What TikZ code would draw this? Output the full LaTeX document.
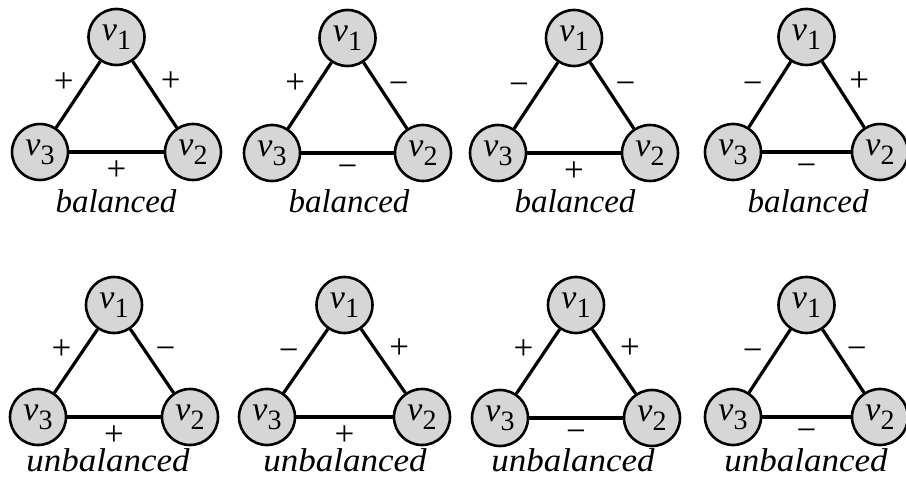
\documentclass[tikz,border=0pt]{standalone}
\usepackage{fontspec}
\setmainfont{Liberation Serif}
\definecolor{vgray}{RGB}{214,214,214}
\newcommand\vlab[1]{\textit{v}\kern0.3pt\raisebox{-9pt}{\fontsize{28}{28}\selectfont #1}}
\newcommand\sgp{+}
\newcommand\sgm{−}
\tikzset{
  vtx/.style={circle, draw, line width=2.6pt, fill=vgray, minimum size=56pt, inner sep=0pt,
              font=\fontsize{34}{34}\selectfont},
  sedge/.style={line width=3.2pt},
  sgn/.style={font=\fontsize{35}{35}\selectfont, inner sep=0pt},
  Lp/.style={sgn, midway, xshift=-14.5pt, yshift=11.5pt},
  Lm/.style={sgn, midway, xshift=-17pt, yshift=6pt},
  Rp/.style={sgn, midway, xshift=16pt, yshift=12.5pt},
  Rm/.style={sgn, midway, xshift=13.5pt, yshift=7.5pt},
  Bp/.style={sgn, midway, yshift=-18.5pt},
  Bm/.style={sgn, midway, yshift=-18.5pt},
  captxt/.style={font=\fontsize{33}{33}\selectfont\itshape, anchor=base, inner sep=0pt},
}
% #1 x of v3, #2 y of v3, #3 width, #4 height, #5 name prefix, #6 left sign, #7 right sign, #8 bottom sign
\newcommand\signtri[8]{%
  \node[vtx] (#5c) at (#1,#2) {\vlab{3}};
  \node[vtx] (#5b) at ({#1+#3},#2) {\vlab{2}};
  \node[vtx] (#5a) at ({#1+#3/2},{#2-#4}) {\vlab{1}};
  \draw[sedge] (#5a) -- node[L#6] {\csname sg#6\endcsname} (#5c);
  \draw[sedge] (#5a) -- node[R#7] {\csname sg#7\endcsname} (#5b);
  \draw[sedge] (#5c) -- node[B#8] {\csname sg#8\endcsname} (#5b);
}
\newcommand\ubal{\scalebox{1.06}[1]{unbalanced}}
\begin{document}
\begin{tikzpicture}[x=1pt, y=-1pt]
  \useasboundingbox (0,0) rectangle (906,489);
  % row 1: balanced
  \signtri{40}{152}{153}{115}{ta}{p}{p}{p}
  \signtri{272}{153}{151}{115}{tb}{p}{m}{m}
  \signtri{498}{153}{152}{115}{tc}{m}{m}{p}
  \signtri{733}{152}{147}{115}{td}{m}{p}{m}
  \node[captxt] (ca) at (116,213) {balanced};
  \node[captxt] (cb) at (349,213) {balanced};
  \node[captxt] (cc) at (575,213) {balanced};
  \node[captxt] (cd) at (808,213) {balanced};
  % row 2: unbalanced
  \signtri{38}{417}{152}{112}{te}{p}{m}{p}
  \signtri{267}{417}{155}{112}{tf}{m}{p}{p}
  \signtri{500}{418}{152}{113}{tg}{p}{p}{m}
  \signtri{733}{417}{147}{112}{th}{m}{m}{m}
  \node[captxt] (ce) at (108,471) {\ubal};
  \node[captxt] (cf) at (345,471) {\ubal};
  \node[captxt] (cg) at (573,471) {\ubal};
  \node[captxt] (ch) at (806,471) {\ubal};
\end{tikzpicture}
\end{document}
